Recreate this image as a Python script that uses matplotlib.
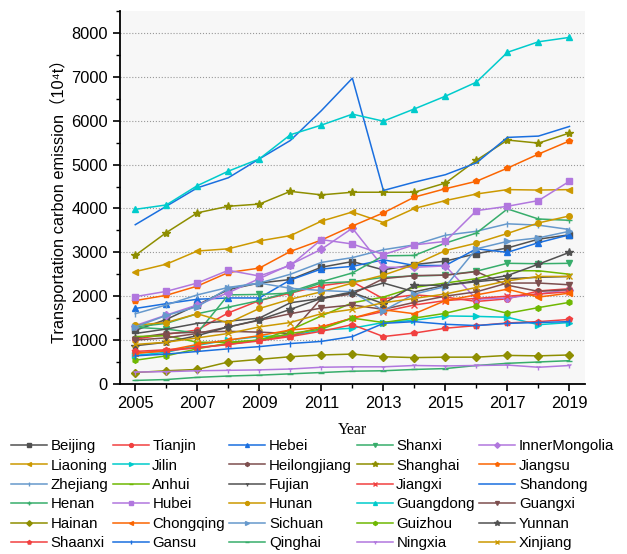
import matplotlib
matplotlib.use("Agg")
import matplotlib.pyplot as plt
from matplotlib.ticker import MultipleLocator

plt.rcParams['font.family'] = ['Liberation Sans', 'DejaVu Sans', 'Noto Sans CJK SC']

years = list(range(2005, 2020))

provinces = ['Beijing', 'Tianjin', 'Hebei', 'Shanxi', 'InnerMongolia',
             'Liaoning', 'Jilin', 'Heilongjiang', 'Shanghai', 'Jiangsu',
             'Zhejiang', 'Anhui', 'Fujian', 'Jiangxi', 'Shandong',
             'Henan', 'Hubei', 'Hunan', 'Guangdong', 'Guangxi',
             'Hainan', 'Chongqing', 'Sichuan', 'Guizhou', 'Yunnan',
             'Shaanxi', 'Gansu', 'Qinghai', 'Ningxia', 'Xinjiang']

# transport carbon emission, 10^4 t, 2005-2019
beijing = [1220, 1470, 1800, 2150, 2300, 2380, 2660, 2790, 2600, 2720, 2800, 2970, 3100, 3300, 3400]
tianjin = [1020, 1130, 1230, 1620, 1900, 2070, 2240, 2330, 1940, 2030, 1980, 1880, 1940, 2120, 2170]
hebei = [1720, 1830, 1930, 1960, 1960, 2370, 2620, 2680, 2830, 2700, 2700, 3080, 3000, 3220, 3400]
shanxi = [1290, 1250, 1160, 2030, 2040, 2070, 2300, 2330, 2430, 2460, 2480, 2570, 2750, 2740, 2750]
innermongolia = [1330, 1570, 1800, 2080, 2400, 2720, 3070, 3550, 2660, 2660, 2690, 1930, 1960, 2050, 2150]
liaoning = [2560, 2730, 3030, 3080, 3260, 3380, 3710, 3920, 3680, 4000, 4180, 4330, 4430, 4420, 4430]
jilin = [650, 720, 880, 1000, 1080, 1100, 1230, 1270, 1400, 1450, 1550, 1540, 1520, 1350, 1400]
heilongjiang = [1050, 1150, 1180, 1200, 1180, 1150, 1950, 2050, 2400, 2470, 2480, 2560, 2250, 2110, 2150]
shanghai = [2930, 3450, 3900, 4050, 4100, 4390, 4310, 4370, 4370, 4370, 4580, 5100, 5560, 5490, 5720]
jiangsu = [1900, 2020, 2230, 2540, 2640, 3020, 3280, 3600, 3900, 4260, 4450, 4620, 4920, 5240, 5540]
zhejiang = [1600, 1800, 2030, 2200, 2300, 2500, 2770, 2880, 3060, 3170, 3390, 3480, 3650, 3620, 3520]
anhui = [1080, 1100, 950, 950, 1000, 1230, 1550, 1850, 1980, 2200, 2300, 2400, 2580, 2580, 2500]
fujian = [1150, 1250, 1380, 1430, 1500, 1850, 1950, 2100, 2300, 2100, 2250, 2330, 2400, 2430, 2450]
jiangxi = [700, 750, 830, 900, 1000, 1100, 1300, 1500, 1650, 1800, 1900, 1950, 2000, 2050, 2100]
shandong = [3630, 4050, 4470, 4700, 5130, 5550, 6230, 6970, 4410, 4600, 4770, 5040, 5620, 5650, 5870]
henan = [1300, 1380, 1600, 1750, 1900, 2100, 2330, 2530, 2920, 2930, 3210, 3440, 3990, 3760, 3730]
hubei = [1990, 2110, 2300, 2590, 2460, 2700, 3290, 3190, 2950, 3170, 3250, 3950, 4050, 4180, 4620]
hunan = [1340, 1400, 1600, 1390, 1720, 1930, 2100, 2300, 2480, 2720, 3040, 3210, 3430, 3670, 3830]
guangdong = [3980, 4080, 4520, 4850, 5130, 5680, 5900, 6150, 5990, 6270, 6560, 6880, 7560, 7800, 7900]
guangxi = [1000, 1050, 1150, 1300, 1450, 1600, 1730, 1800, 1700, 1860, 2000, 2100, 2300, 2300, 2260]
hainan = [260, 300, 330, 500, 560, 620, 660, 680, 620, 600, 610, 610, 650, 640, 660]
chongqing = [700, 760, 900, 1000, 1100, 1230, 1290, 1500, 1690, 1600, 1900, 2030, 2160, 1980, 2070]
sichuan = [1300, 1560, 1760, 2180, 2300, 2180, 2130, 2100, 1670, 2050, 2220, 3080, 3250, 3330, 3480]
guizhou = [540, 640, 800, 930, 1000, 1150, 1250, 1500, 1400, 1500, 1610, 1780, 1610, 1740, 1860]
yunnan = [870, 950, 1100, 1300, 1460, 1700, 1950, 2080, 1830, 2250, 2250, 2350, 2470, 2730, 3000]
shaanxi = [740, 780, 820, 900, 980, 1080, 1200, 1350, 1080, 1160, 1270, 1330, 1390, 1420, 1470]
gansu = [640, 680, 740, 800, 850, 920, 970, 1080, 1380, 1420, 1360, 1330, 1380, 1400, 1420]
qinghai = [80, 100, 150, 180, 200, 230, 260, 290, 300, 330, 350, 420, 470, 500, 530]
ningxia = [270, 280, 300, 310, 320, 340, 380, 390, 390, 420, 410, 420, 430, 380, 420]
xinjiang = [900, 950, 1050, 1150, 1300, 1400, 1600, 1700, 1850, 1950, 2050, 2200, 2350, 2450, 2450]

series = [beijing, tianjin, hebei, shanxi, innermongolia, liaoning, jilin,
          heilongjiang, shanghai, jiangsu, zhejiang, anhui, fujian, jiangxi,
          shandong, henan, hubei, hunan, guangdong, guangxi, hainan, chongqing,
          sichuan, guizhou, yunnan, shaanxi, gansu, qinghai, ningxia, xinjiang]

colors = ['#515151', '#F14040', '#1A6FDF', '#37AD6B', '#B177DE', '#CC9900',
          '#00CBCC', '#7D4E4E', '#8E8E00', '#FB6501', '#6699CC', '#6FB802']
markers = ['s', 'o', '^', 'v', 'D', '<', '>', 'h', '*', 'p', '|', '_',
           '1', 'x', '', '+']

fig = plt.figure(figsize=(6.27, 5.54), dpi=100)
ax = fig.add_axes([0.191, 0.307, 0.742, 0.673])
ax.set_facecolor('#f7f7f7')

handles = []
for i, (name, vals) in enumerate(zip(provinces, series)):
    c = colors[i % len(colors)]
    m = markers[i % len(markers)]
    ms = 6 if m == '*' else 4
    h, = ax.plot(years, vals, color=c, marker=m, markersize=ms, lw=1.1,
                 markeredgewidth=1.0, label=name)
    handles.append(h)

ax.set_xlim(2004.5, 2019.5)
ax.set_ylim(0, 8500)
ax.xaxis.set_minor_locator(MultipleLocator(1))
ax.set_xticks(range(2005, 2020, 2))
ax.yaxis.set_minor_locator(MultipleLocator(500))
ax.set_yticks(range(0, 8001, 1000))
ax.tick_params(which='major', length=5, width=1.2, labelsize=11.8, direction='out')
ax.tick_params(which='minor', length=3, width=1.0, direction='out')
ax.grid(axis='y', which='major', ls=':', color='#999999', lw=0.8)
for s in ['top', 'right']:
    ax.spines[s].set_visible(False)
for s in ['left', 'bottom']:
    ax.spines[s].set_linewidth(1.3)

ax.set_ylabel('Transportation carbon emission（10⁴t）', fontsize=11.8, labelpad=3)
ax.set_xlabel('Year', fontsize=11.5, family='Liberation Serif', labelpad=8)

# legend filled row by row
order = [r * 5 + c for c in range(5) for r in range(6)]
fig.legend([handles[k] for k in order], [provinces[k] for k in order],
           ncol=5, loc='upper left', bbox_to_anchor=(0.0, 0.226),
           borderaxespad=0.3, frameon=False, fontsize=10.8, handlelength=2.4,
           handletextpad=0.25, columnspacing=0.3, labelspacing=0.36,
           markerscale=0.7)

fig.savefig('out.png', dpi=100)
